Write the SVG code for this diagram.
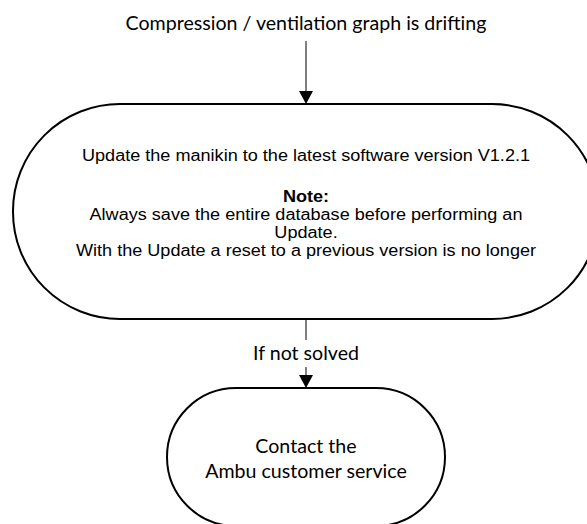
<svg xmlns="http://www.w3.org/2000/svg" width="587" height="524" viewBox="0 0 587 524">
<style>
.shape{fill:#fff;stroke:#000;stroke-width:2}
.conn{stroke:#000;stroke-width:1;fill:none}
.head{fill:#000}
.cal{font-family:Lato,"Open Sans",sans-serif;font-size:19.6px;fill:#000;text-anchor:middle}
.ar{font-family:"Liberation Sans",Arial,sans-serif;font-size:16px;fill:#000;text-anchor:middle}
.b{font-weight:bold}
</style>
<rect width="587" height="524" fill="#fff"/>
<g id="start">
<text class="cal" x="306" y="30">Compression / ventilation graph is drifting</text>
</g>
<g id="update">
<rect class="shape" x="13" y="104" width="586" height="215" rx="107" ry="107"/>
<g transform="translate(306,0) scale(1.13,1)">
<text class="ar" x="0" y="161">Update the manikin to the latest software version V1.2.1</text>
<text class="ar b" x="0" y="202">Note:</text>
<text class="ar" x="0" y="220">Always save the entire database before performing an</text>
<text class="ar" x="0" y="238">Update.</text>
<text class="ar" x="0" y="256">With the Update a reset to a previous version is no longer</text>
</g>
</g>
<g id="contact">
<rect class="shape" x="167" y="388" width="278" height="138" rx="69" ry="69"/>
<text class="cal" x="306" y="453">Contact the</text>
<text class="cal" x="306" y="478">Ambu customer service</text>
</g>
<g id="connectors">
<line class="conn" x1="306" y1="41" x2="306" y2="92"/>
<polygon class="head" points="299,91 313,91 306,104"/>
<line class="conn" x1="306" y1="319" x2="306" y2="340"/>
<text class="cal" x="306" y="360">If not solved</text>
<line class="conn" x1="306" y1="367" x2="306" y2="376"/>
<polygon class="head" points="299,375 313,375 306,388"/>
</g>
</svg>
